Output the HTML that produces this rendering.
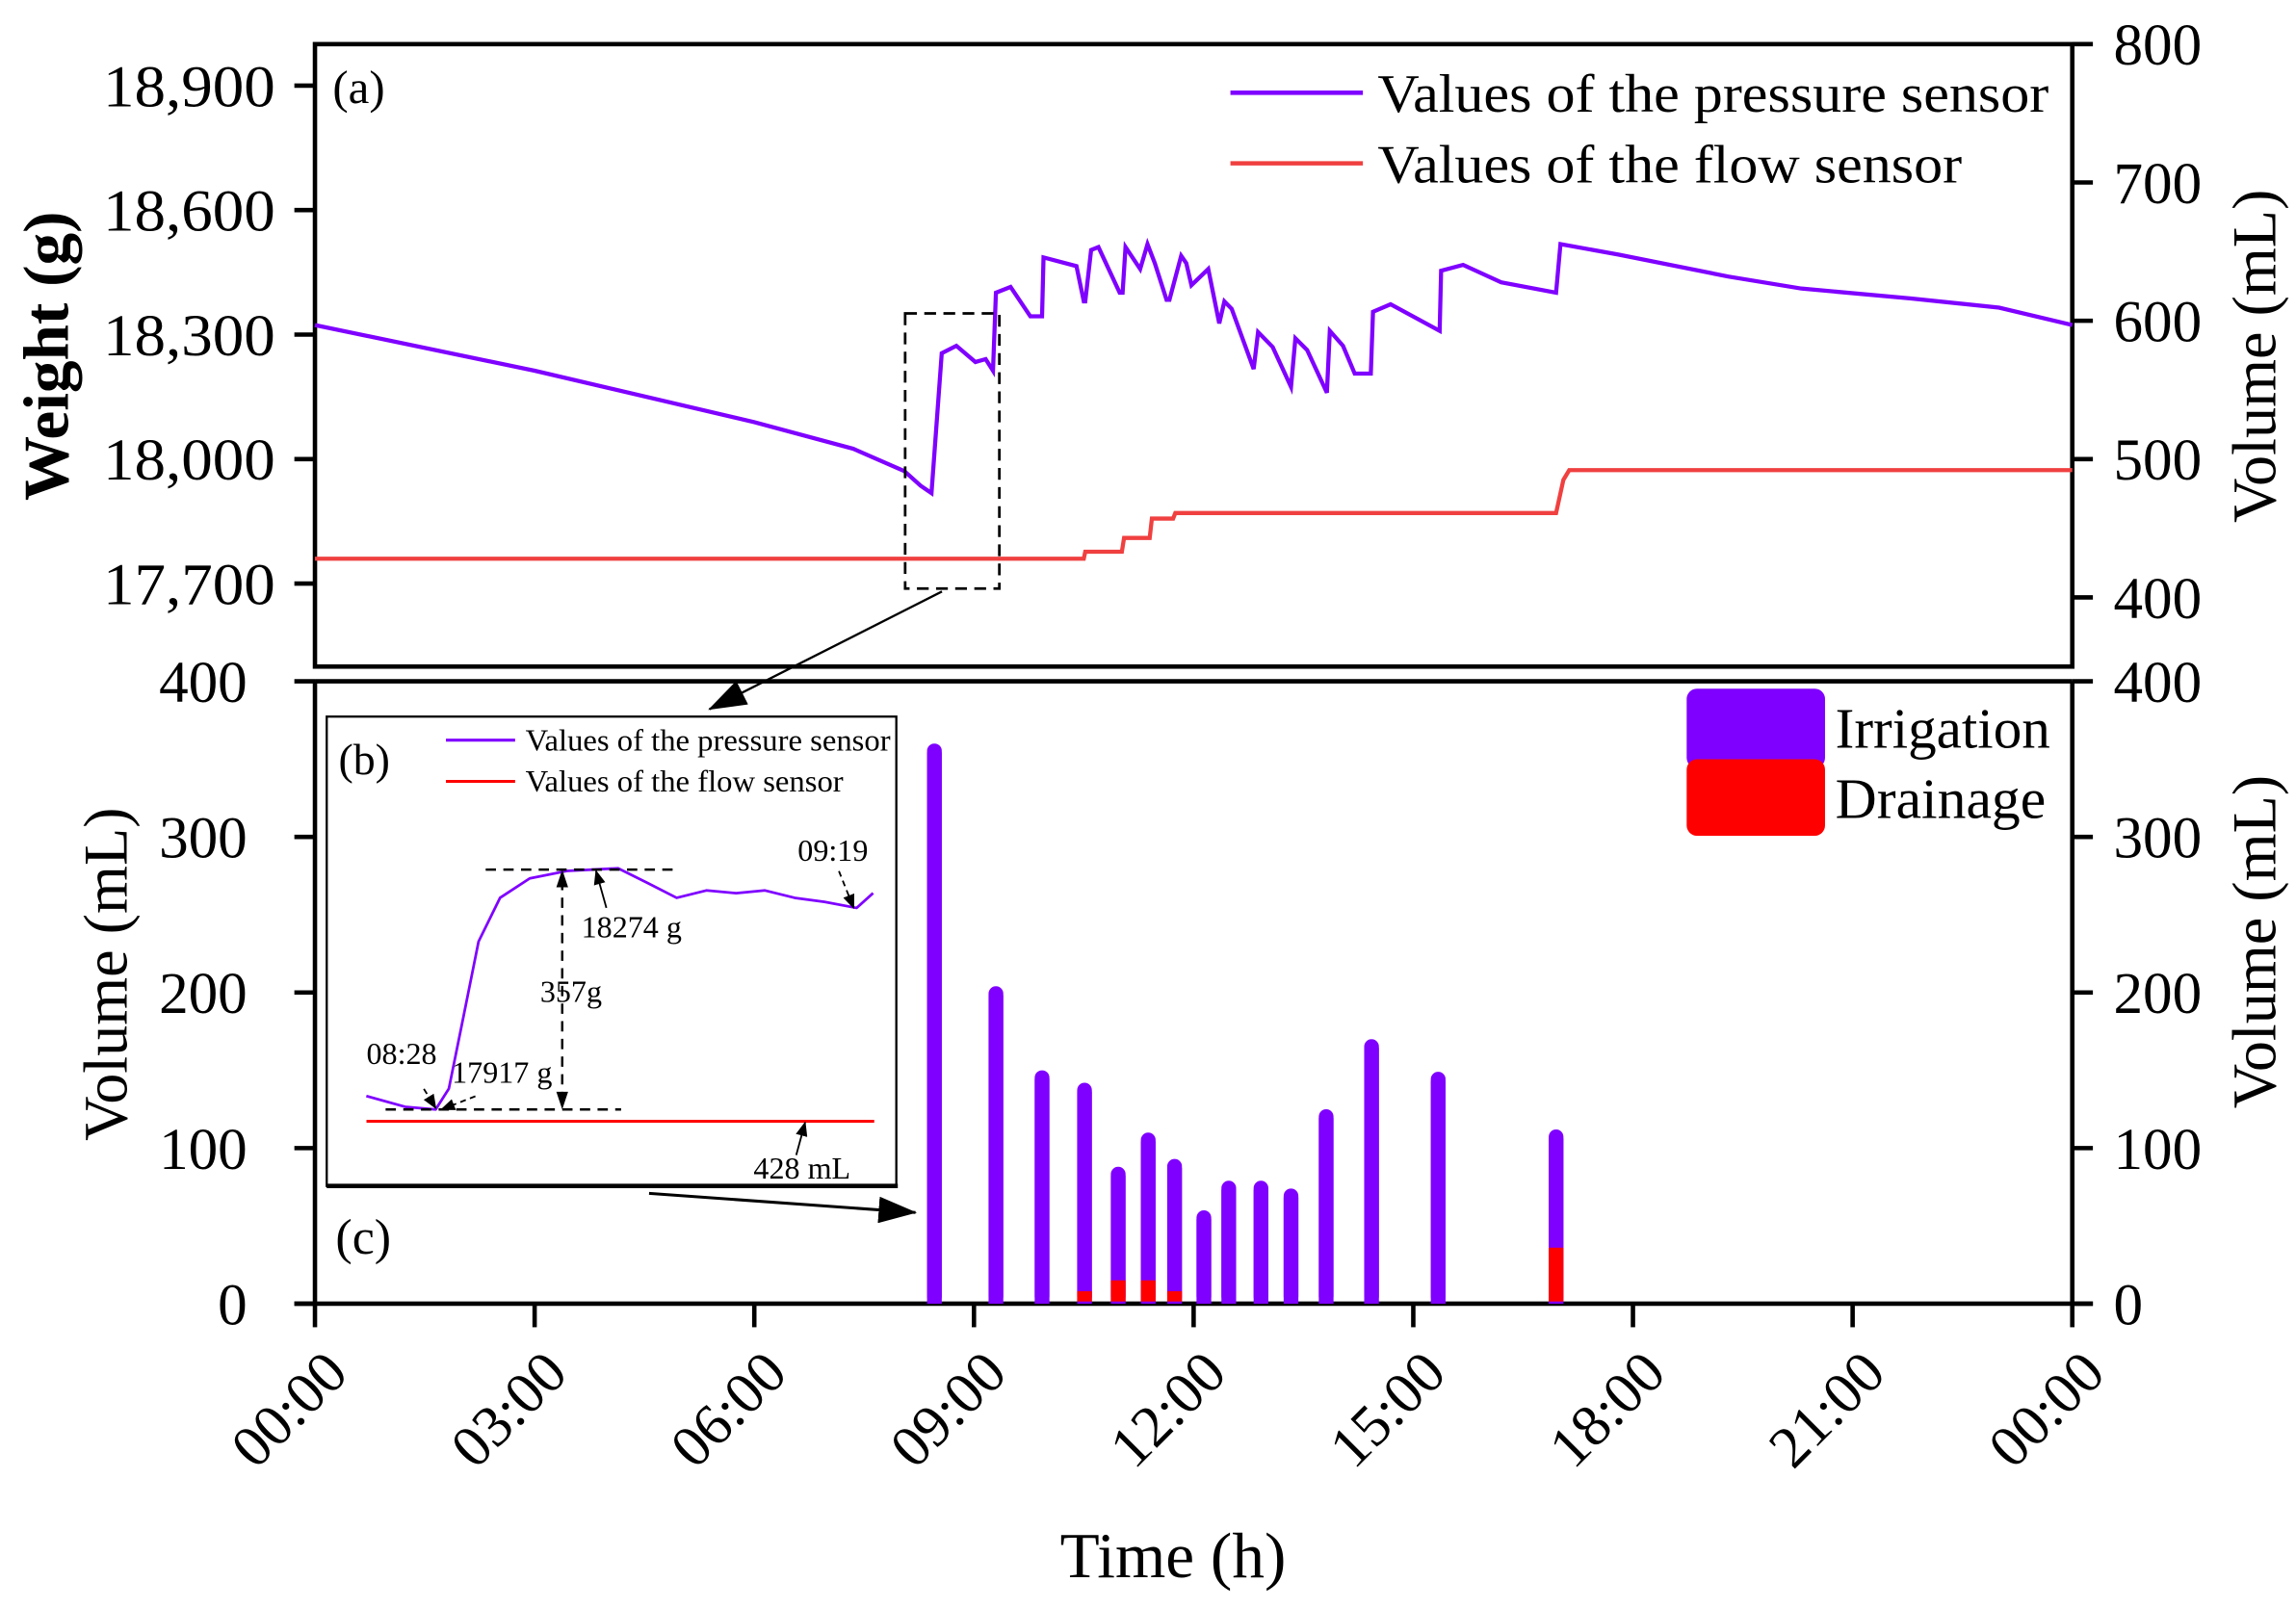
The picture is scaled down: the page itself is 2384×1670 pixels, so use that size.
<!DOCTYPE html>
<html><head><meta charset="utf-8"><style>
html,body{margin:0;padding:0;background:#fff;}
svg{display:block;font-family:"Liberation Serif",serif;}
</style></head><body>
<svg id="chart" width="2384" height="1670" viewBox="0 0 1560 1092.8" preserveAspectRatio="none" xmlns="http://www.w3.org/2000/svg">
<defs>
<marker id="ah" markerWidth="10" markerHeight="8" refX="9" refY="4" orient="auto" markerUnits="userSpaceOnUse"><path d="M0,0 L10,4 L0,8 z" fill="#000"/></marker>
<marker id="ahb" markerWidth="26" markerHeight="18" refX="25" refY="9" orient="auto" markerUnits="userSpaceOnUse"><path d="M0,0 L26,9 L0,18 z" fill="#000"/></marker>
</defs>
<g id="topPanel"></g>
<g id="botPanel"></g>
<g id="insetPanel"></g>
</svg>
<script>
// ---------- data ----------
const xTickLabels = ["00:00","03:00","06:00","09:00","12:00","15:00","18:00","21:00","00:00"];
const weightTicks = [17700,18000,18300,18600,18900];
const volTopTicks = [400,500,600,700,800];
const volBotTicks = [0,100,200,300,400];
// pressure sensor: hours, grams
const pressHours = [0,3,6,7.35,8.05,8.27,8.42,8.56,8.76,9.02,9.16,9.26,9.3,9.5,9.77,9.93,9.95,10.4,10.5,10.52,10.6,10.7,10.99,11.03,11.07,11.27,11.37,11.47,11.63,11.67,11.83,11.9,11.97,12.2,12.35,12.42,12.52,12.82,12.88,13.08,13.33,13.39,13.55,13.82,13.86,14.04,14.2,14.42,14.45,14.69,15.36,15.38,15.68,16.2,16.95,17.01,17.8,19.3,20.3,21.8,23.0,24.0];
const pressWeights = [18323,18213,18089,18025,17971,17936,17918,18255,18273,18234,18241,18213,18401,18415,18344,18344,18486,18465,18380,18380,18504,18511,18401,18401,18511,18458,18518,18472,18384,18384,18490,18472,18419,18458,18327,18380,18362,18217,18306,18270,18174,18291,18263,18160,18309,18273,18206,18206,18355,18373,18309,18454,18468,18426,18401,18518,18493,18440,18411,18387,18365,18323];
// flow sensor: hours, mL
const flowHours = [0,10.5,10.52,11.02,11.05,11.4,11.43,11.72,11.75,16.95,17.05,17.13,24];
const flowVals  = [428,428,433,433,443,443,457,457,461,461,485,492,492];
// bars
const barHours = [8.46,9.3,9.93,10.51,10.97,11.38,11.74,12.14,12.48,12.92,13.33,13.81,14.43,15.34,16.95];
const irrigation = [360,204,150,142,88,110,93,60,79,79,74,125,170,149,112];
const drainage   = [0,0,0,8,15,15,8,0,0,0,0,0,0,0,36];
// inset (minutes after 08:00, grams)
const insetMin = [19.6,24.3,28,29.6,31.4,33.2,35.8,39.4,43.9,50.1,53.7,57.2,60.8,64.4,67.9,71.5,75.1,79,81];
const insetW   = [17937,17921,17917,17948,18057,18167,18232,18261,18272,18276,18254,18232,18243,18239,18243,18232,18226,18217,18239];

// ---------- geometry ----------
const NS="http://www.w3.org/2000/svg";
const L=214,R=1408;
const xH=h=>L+(R-L)*h/24;
const yW=g=>30+(19000-g)/1500*423;
const yVt=v=>30+(800-v)/100*94;
const yVb=v=>886-v*1.0575;
const ixM=m=>296+(m-28)*(286/51);
const iyW=g=>754-(g-17917)*(163/357);
function el(tag,attrs,parent,text){const e=document.createElementNS(NS,tag);for(const k in attrs)e.setAttribute(k,attrs[k]);if(text!==undefined)e.textContent=text;parent.appendChild(e);return e;}
const gTop=document.getElementById('topPanel'),gBot=document.getElementById('botPanel'),gIns=document.getElementById('insetPanel');

// ---------- top panel ----------
let f=el('rect',{x:L,y:30,width:R-L,height:423,fill:'none',stroke:'#000','stroke-width':3},gTop);


weightTicks.forEach(v=>{const y=yW(v);
 let t=el('line',{x1:200,x2:L,y1:y,y2:y,stroke:'#000','stroke-width':3},gTop);
 
 
 let s=el('text',{x:187,y:y+14,'font-size':40,'text-anchor':'end',textLength:117,lengthAdjust:'spacingAndGlyphs'},gTop,v.toLocaleString('en-US'));
 
 });
volTopTicks.forEach(v=>{const y=yVt(v);
 let t=el('line',{x1:R,x2:R+14,y1:y,y2:y,stroke:'#000','stroke-width':3},gTop);
 
 
 let s=el('text',{x:1436,y:y+14,'font-size':40},gTop,v);
 
 });
let p=el('polyline',{points:pressHours.map((h,i)=>xH(h)+','+yW(pressWeights[i])).join(' '),fill:'none',stroke:'#7f00ff','stroke-width':2.8},gTop);


p=el('polyline',{points:flowHours.map((h,i)=>xH(h)+','+yVt(flowVals[i])).join(' '),fill:'none',stroke:'#f04040','stroke-width':2.8},gTop);


el('rect',{x:615,y:213,width:64,height:187,fill:'none',stroke:'#000','stroke-width':1.8,'stroke-dasharray':'8,5'},gTop);
el('line',{x1:640,y1:402,x2:482,y2:482,stroke:'#000','stroke-width':1.5,'marker-end':'url(#ahb)'},gTop);
el('text',{x:226,y:70,'font-size':32},gTop,'(a)');
el('line',{x1:836,x2:926,y1:63,y2:63,stroke:'#7f00ff','stroke-width':3},gTop);
el('text',{x:936,y:76,'font-size':37,textLength:456,lengthAdjust:'spacingAndGlyphs'},gTop,'Values of the pressure sensor');
el('line',{x1:836,x2:926,y1:111,y2:111,stroke:'#f04040','stroke-width':3},gTop);
el('text',{x:936,y:124,'font-size':37,textLength:397,lengthAdjust:'spacingAndGlyphs'},gTop,'Values of the flow sensor');
el('text',{x:0,y:0,'font-size':44,'font-weight':'bold','text-anchor':'middle',transform:'translate(46,242) rotate(-90)'},gTop,'Weight (g)');
el('text',{x:0,y:0,'font-size':42,'text-anchor':'middle',transform:'translate(1546,242) rotate(-90)'},gTop,'Volume (mL)');

// ---------- bottom panel ----------
el('line',{x1:L,x2:R,y1:463,y2:463,stroke:'#000','stroke-width':3},gBot);
el('line',{x1:L,x2:L,y1:463,y2:886,stroke:'#000','stroke-width':3},gBot);
el('line',{x1:R,x2:R,y1:463,y2:886,stroke:'#000','stroke-width':3},gBot);
el('line',{x1:200,x2:R+14,y1:886,y2:886,stroke:'#000','stroke-width':3},gBot);
volBotTicks.forEach(v=>{const y=yVb(v);
 let t=el('line',{x1:200,x2:L,y1:y,y2:y,stroke:'#000','stroke-width':3},gBot);
 
 
 let s=el('text',{x:168,y:y+14,'font-size':40,'text-anchor':'end'},gBot,v);
 
 
 t=el('line',{x1:R,x2:R+14,y1:y,y2:y,stroke:'#000','stroke-width':3},gBot);
 
 
 s=el('text',{x:1436,y:y+14,'font-size':40},gBot,v);
 
 });
xTickLabels.forEach((lab,i)=>{const x=xH(i*3);
 let t=el('line',{x1:x,x2:x,y1:886,y2:902,stroke:'#000','stroke-width':3},gBot);
 
 
 let s=el('text',{x:0,y:0,'font-size':40,'text-anchor':'end',transform:`translate(${x+24},${935}) rotate(-45)`},gBot,lab);
 
 });
barHours.forEach((h,i)=>{const x=xH(h)-5;
 let b=el('rect',{x:x,y:yVb(irrigation[i]),width:10,height:886-yVb(irrigation[i]),rx:5,fill:'#7f00ff'},gBot);
 
 
 el('rect',{x:x,y:yVb(irrigation[i])+6,width:10,height:Math.max(0,886-yVb(irrigation[i])-6),fill:'#7f00ff'},gBot);
 if(drainage[i]>0){b=el('rect',{x:x,y:yVb(drainage[i]),width:10,height:886-1.5-yVb(drainage[i]),fill:'#ff0000'},gBot);
 
 }});
el('rect',{x:1146,y:468,width:94,height:54,rx:7,fill:'#7f00ff'},gBot);
el('rect',{x:1146,y:516,width:94,height:52,rx:7,fill:'#ff0000'},gBot);
el('text',{x:1247,y:508,'font-size':39,textLength:146,lengthAdjust:'spacingAndGlyphs'},gBot,'Irrigation');
el('text',{x:1247,y:556,'font-size':39,textLength:143,lengthAdjust:'spacingAndGlyphs'},gBot,'Drainage');
el('text',{x:228,y:852,'font-size':34},gBot,'(c)');
el('line',{x1:441,y1:811,x2:622,y2:824,stroke:'#000','stroke-width':2,'marker-end':'url(#ahb)'},gBot);
el('text',{x:0,y:0,'font-size':42,'text-anchor':'middle',transform:'translate(86,662) rotate(-90)'},gBot,'Volume (mL)');
el('text',{x:0,y:0,'font-size':42,'text-anchor':'middle',transform:'translate(1546,640) rotate(-90)'},gBot,'Volume (mL)');
el('text',{x:797,y:1072,'font-size':44,'text-anchor':'middle'},gBot,'Time (h)');

// ---------- inset ----------
el('rect',{x:222,y:487,width:387,height:319,fill:'#fff',stroke:'#000','stroke-width':1.5},gIns);
el('line',{x1:222,x2:610,y1:806,y2:806,stroke:'#000','stroke-width':3},gIns);
el('text',{x:230,y:526,'font-size':30},gIns,'(b)');
el('line',{x1:303,x2:350,y1:503,y2:503,stroke:'#7f00ff','stroke-width':2},gIns);
el('text',{x:357,y:510,'font-size':21,textLength:248,lengthAdjust:'spacingAndGlyphs'},gIns,'Values of the pressure sensor');
el('line',{x1:303,x2:350,y1:531,y2:531,stroke:'#ff0000','stroke-width':2},gIns);
el('text',{x:357,y:538,'font-size':21,textLength:216,lengthAdjust:'spacingAndGlyphs'},gIns,'Values of the flow sensor');
p=el('polyline',{points:insetMin.map((m,i)=>ixM(m)+','+iyW(insetW[i])).join(' '),fill:'none',stroke:'#7f00ff','stroke-width':1.8,'stroke-linejoin':'round'},gIns);


el('line',{x1:249,x2:594,y1:762,y2:762,stroke:'#ff0000','stroke-width':2},gIns);
const dash={stroke:'#000','stroke-width':1.6,'stroke-dasharray':'7,5'};
el('line',Object.assign({x1:330,x2:460,y1:591,y2:591},dash),gIns);
el('line',Object.assign({x1:262,x2:422,y1:754,y2:754},dash),gIns);
el('line',Object.assign({x1:382,x2:382,y1:598,y2:748},dash),gIns);
el('path',{d:'M382,591 L378,603 L386,603 z M382,754 L378,742 L386,742 z',fill:'#000'},gIns);
const lab=[[395,637,'18274 g'],[367,681,'357g'],[249,723,'08:28'],[307,736,'17917 g'],[542,585,'09:19'],[512,801,'428 mL']];
lab.forEach(a=>{let t=el('text',{x:a[0],y:a[1],'font-size':21},gIns,a[2]);
 
 });
el('line',{x1:412,y1:617,x2:405,y2:592,stroke:'#000','stroke-width':1.2,'marker-end':'url(#ah)'},gIns);
el('line',{x1:288,y1:740,x2:296,y2:753,stroke:'#000','stroke-width':1.2,'stroke-dasharray':'4,3','marker-end':'url(#ah)'},gIns);
el('line',{x1:323,y1:745,x2:300,y2:754,stroke:'#000','stroke-width':1.2,'stroke-dasharray':'4,3','marker-end':'url(#ah)'},gIns);
el('line',{x1:570,y1:592,x2:580,y2:617,stroke:'#000','stroke-width':1.2,'stroke-dasharray':'4,3','marker-end':'url(#ah)'},gIns);
el('line',{x1:541,y1:785,x2:547,y2:763,stroke:'#000','stroke-width':1.2,'marker-end':'url(#ah)'},gIns);
</script>
</body></html>
